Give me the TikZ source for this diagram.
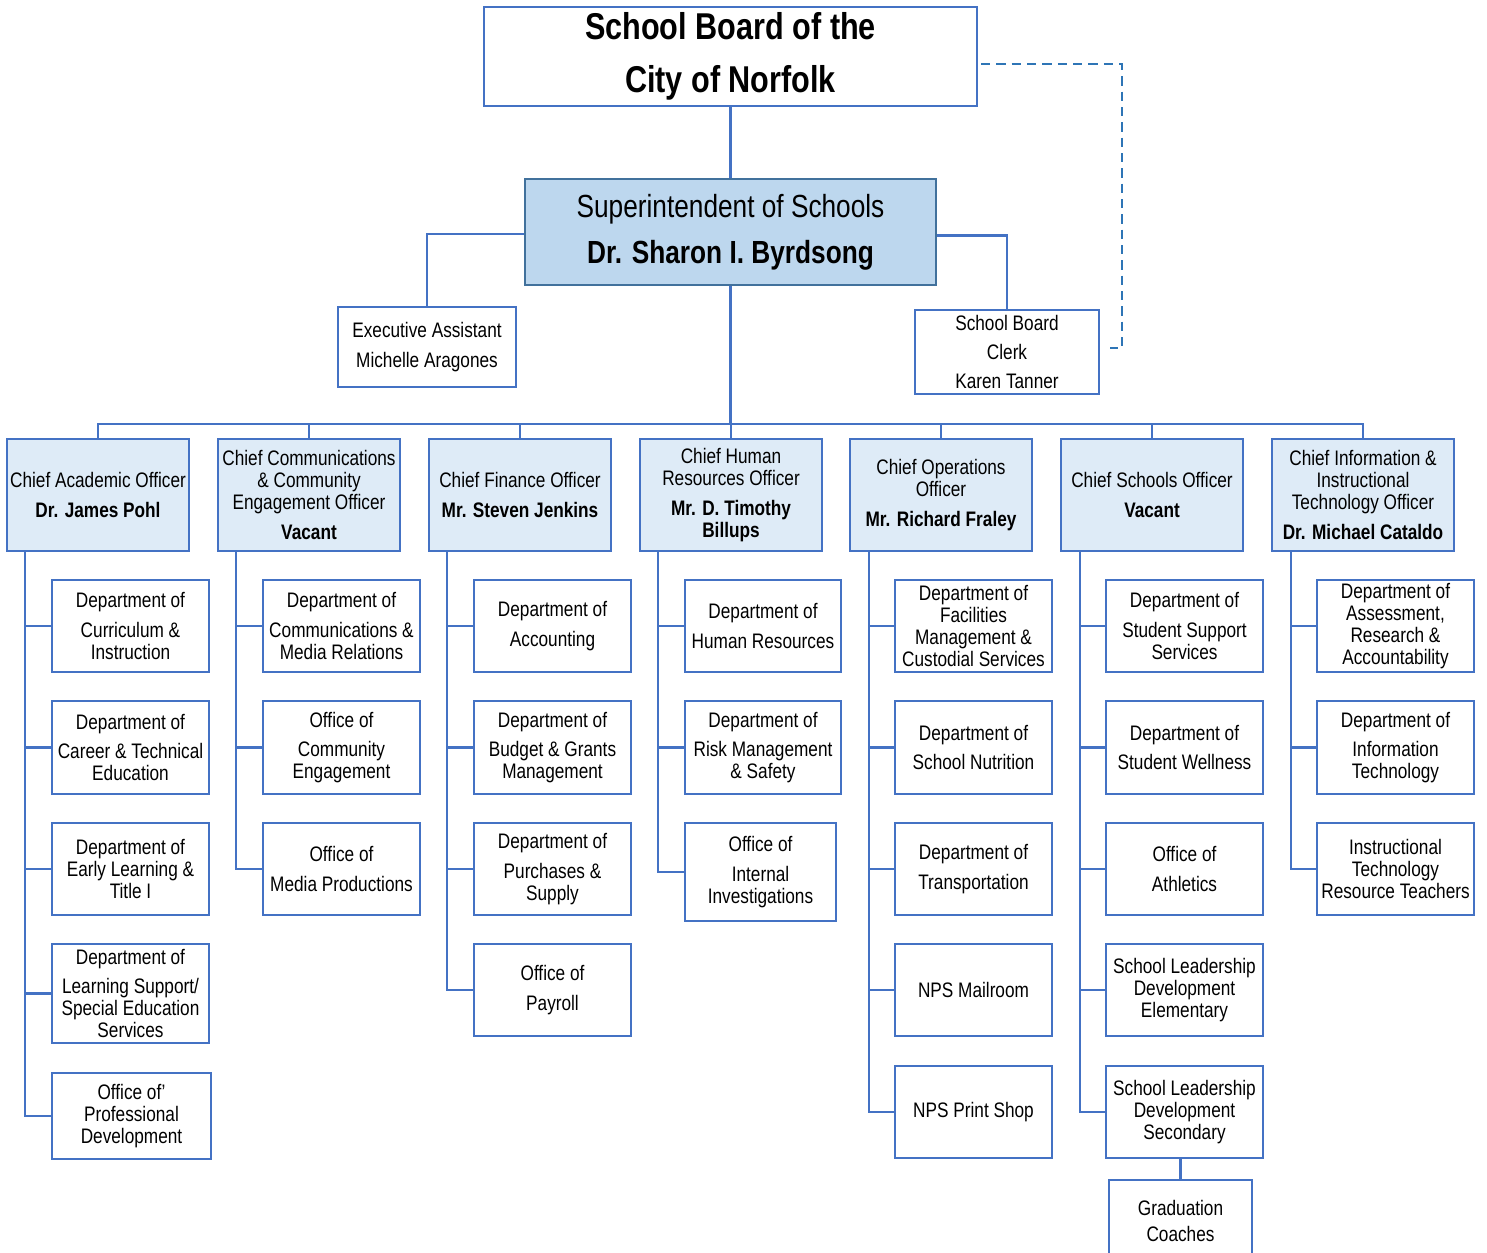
\documentclass[tikz,border=0pt]{standalone}
\usepackage{fontspec}
\setmainfont{Liberation Sans}[FakeStretch=0.82]
\usetikzlibrary{calc}
\definecolor{ln}{HTML}{4472C4}
\definecolor{supline}{HTML}{41719C}
\definecolor{supfill}{HTML}{BDD7EE}
\definecolor{chfill}{HTML}{DEEBF7}
\definecolor{dsh}{HTML}{2E75B6}
\newcommand{\bx}[7]{\node[#6, minimum width={(#4-#2)*0.75pt}, minimum height={(#5-#3)*0.75pt}] (#1) at ({(#2+#4)/2},{(#3+#5)/2}) {#7};}
\newcommand{\gp}{\\[5.6pt]}
\tikzset{
  box/.style={draw=ln, line width=2.1pt, fill=white, inner sep=0pt, align=center, text=black,
              font=\fontsize{15.75pt}{16.5pt}\selectfont},
  chief/.style={box, fill=chfill},
  topbox/.style={box, font=\fontsize{28pt}{39.75pt}\selectfont\bfseries},
  supbox/.style={box, draw=supline, fill=supfill, font=\fontsize{24pt}{34.5pt}\selectfont},
  conn/.style={draw=ln, line width=1.8pt},
  dashline/.style={draw=dsh, line width=1.6pt, dash pattern=on 7pt off 4.5pt},
}
\begin{document}
\begin{tikzpicture}[x=0.75pt, y=-0.75pt]
\useasboundingbox (0,0) rectangle (1487,1252);
\fill[white] (0,0) rectangle (1487,1252);

% top levels
\bx{top}{484}{7}{977}{106}{topbox}{School Board of the\\City of Norfolk}
\bx{sup}{525}{179}{936}{285}{supbox}{Superintendent of Schools\\\textbf{Dr. Sharon I. Byrdsong}}
\bx{ex}{338}{307}{516}{387}{box}{Executive Assistant\gp Michelle Aragones}
\bx{clk}{915}{310}{1099}{394}{box}{School Board\gp Clerk\gp Karen Tanner}

% chiefs
\bx{ch1}{7}{439}{189}{551}{chief}{Chief Academic Officer\gp\textbf{Dr. James Pohl}}
\bx{ch2}{218}{439}{400}{551}{chief}{Chief Communications\\\& Community\\Engagement Officer\gp\textbf{Vacant}}
\bx{ch3}{429}{439}{611}{551}{chief}{Chief Finance Officer\gp\textbf{Mr. Steven Jenkins}}
\bx{ch4}{640}{439}{822}{551}{chief}{Chief Human\\Resources Officer\gp\textbf{Mr. D. Timothy}\\\textbf{Billups}}
\bx{ch5}{850}{439}{1032}{551}{chief}{Chief Operations\\Officer\gp\textbf{Mr. Richard Fraley}}
\bx{ch6}{1061}{439}{1243}{551}{chief}{Chief Schools Officer\gp\textbf{Vacant}}
\bx{ch7}{1272}{439}{1454}{551}{chief}{Chief Information \&\\Instructional\\Technology Officer\gp\textbf{Dr. Michael Cataldo}}

% column 1
\bx{a1}{52}{580}{209}{672}{box}{Department of\gp Curriculum \&\\Instruction}
\bx{a2}{52}{701}{209}{794}{box}{Department of\gp Career \& Technical\\Education}
\bx{a3}{52}{823}{209}{915}{box}{Department of\\Early Learning \&\\Title I}
\bx{a4}{52}{944}{209}{1043}{box}{Department of\gp Learning Support/\\Special Education\\Services}
\bx{a5}{52}{1073}{211}{1159}{box}{Office of'\\Professional\\Development}
% column 2
\bx{b1}{263}{580}{420}{672}{box}{Department of\gp Communications \&\\Media Relations}
\bx{b2}{263}{701}{420}{794}{box}{Office of\gp Community\\Engagement}
\bx{b3}{263}{823}{420}{915}{box}{Office of\gp Media Productions}
% column 3
\bx{c1}{474}{580}{631}{672}{box}{Department of\gp Accounting}
\bx{c2}{474}{701}{631}{794}{box}{Department of\gp Budget \& Grants\\Management}
\bx{c3}{474}{823}{631}{915}{box}{Department of\gp Purchases \&\\Supply}
\bx{c4}{474}{944}{631}{1036}{box}{Office of\gp Payroll}
% column 4
\bx{d1}{685}{580}{841}{672}{box}{Department of\gp Human Resources}
\bx{d2}{685}{701}{841}{794}{box}{Department of\gp Risk Management\\\& Safety}
\bx{d3}{685}{823}{836}{921}{box}{Office of\gp Internal\\Investigations}
% column 5
\bx{e1}{895}{580}{1052}{672}{box}{Department of\\Facilities\\Management \&\\Custodial Services}
\bx{e2}{895}{701}{1052}{794}{box}{Department of\gp School Nutrition}
\bx{e3}{895}{823}{1052}{915}{box}{Department of\gp Transportation}
\bx{e4}{895}{944}{1052}{1036}{box}{NPS Mailroom}
\bx{e5}{895}{1066}{1052}{1158}{box}{NPS Print Shop}
% column 6
\bx{f1}{1106}{580}{1263}{672}{box}{Department of\gp Student Support\\Services}
\bx{f2}{1106}{701}{1263}{794}{box}{Department of\gp Student Wellness}
\bx{f3}{1106}{823}{1263}{915}{box}{Office of\gp Athletics}
\bx{f4}{1106}{944}{1263}{1036}{box}{School Leadership\\Development\\Elementary}
\bx{f5}{1106}{1066}{1263}{1158}{box}{School Leadership\\Development\\Secondary}
\bx{grad}{1109}{1180}{1252}{1262}{box}{Graduation\\[2.5pt]Coaches}
% column 7
\bx{g1}{1317}{580}{1474}{672}{box}{Department of\\Assessment,\\Research \&\\Accountability}
\bx{g2}{1317}{701}{1474}{794}{box}{Department of\gp Information\\Technology}
\bx{g3}{1317}{823}{1474}{915}{box}{Instructional\\Technology\\Resource Teachers}

% upper connectors
\draw[conn] (top.south) -- (sup.north);
\draw[conn] ([yshift=-1.5pt]sup.west) -| (ex.north);
\draw[conn] ([yshift=-2.5pt]sup.east) -| (clk.north);
\coordinate (dA) at (1122,64);
\coordinate (dB) at (1122,348);
\draw[dashline] ([xshift=2pt]top.east |- dA) -- (dA) -- (dB) -- ([xshift=7pt]clk.east |- dB);

% bus
\coordinate (bus) at (730.5,424);
\draw[conn] (sup.south) -- (bus);
\foreach \c in {ch1,ch2,ch3,ch4,ch5,ch6,ch7} {\draw[conn] (\c.north) |- (bus);}

% spines
\coordinate (s1) at (25,0);
\coordinate (s2) at (236,0);
\coordinate (s3) at (447,0);
\coordinate (s4) at (658,0);
\coordinate (s5) at (869,0);
\coordinate (s6) at (1080,0);
\coordinate (s7) at (1291,0);
\draw[conn] (ch1.south -| s1) |- (a5.west);
\foreach \b in {a1,a2,a3,a4} {\draw[conn] (\b.west -| s1) -- (\b.west);}
\draw[conn] (ch2.south -| s2) |- (b3.west);
\foreach \b in {b1,b2} {\draw[conn] (\b.west -| s2) -- (\b.west);}
\draw[conn] (ch3.south -| s3) |- (c4.west);
\foreach \b in {c1,c2,c3} {\draw[conn] (\b.west -| s3) -- (\b.west);}
\draw[conn] (ch4.south -| s4) |- (d3.west);
\foreach \b in {d1,d2} {\draw[conn] (\b.west -| s4) -- (\b.west);}
\draw[conn] (ch5.south -| s5) |- (e5.west);
\foreach \b in {e1,e2,e3,e4} {\draw[conn] (\b.west -| s5) -- (\b.west);}
\draw[conn] (ch6.south -| s6) |- (f5.west);
\foreach \b in {f1,f2,f3,f4} {\draw[conn] (\b.west -| s6) -- (\b.west);}
\draw[conn] (ch7.south -| s7) |- (g3.west);
\foreach \b in {g1,g2} {\draw[conn] (\b.west -| s7) -- (\b.west);}
\draw[conn] (grad.north) -- (grad.north |- f5.south);
\end{tikzpicture}
\end{document}
